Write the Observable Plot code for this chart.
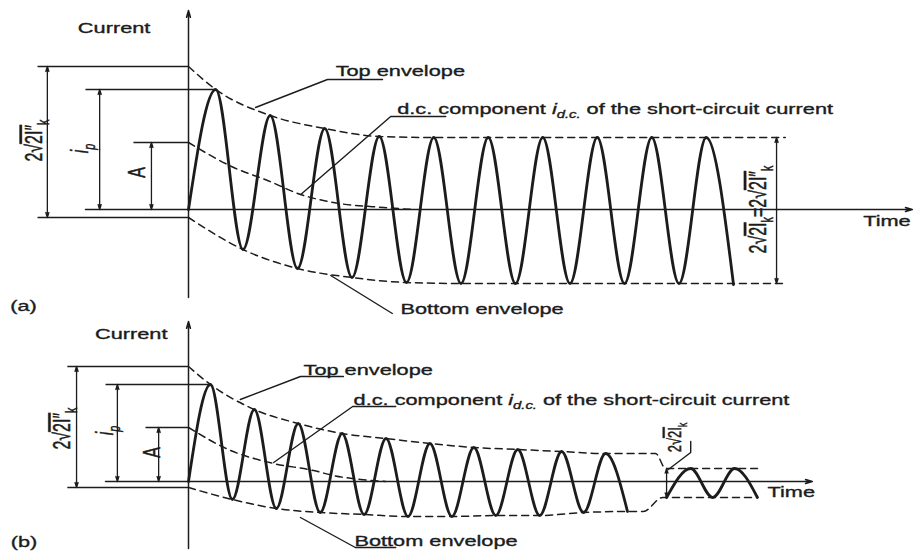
<!DOCTYPE html>
<html><head><meta charset="utf-8">
<script src="https://cdn.jsdelivr.net/npm/d3@7"></script>
<script src="https://cdn.jsdelivr.net/npm/@observablehq/plot@0.6"></script>
<style>
body{margin:0;background:#fff;}
#chart{width:913px;height:553px;overflow:hidden;background:#fff;}
#chart svg{display:block;}
</style></head><body><div id="chart"></div>
<script>
// ================= DATA (time in cycles, current in arbitrary units) =================
// ---- (a) short circuit far from generator ----
const waveA_t = [0, 0.5, 1, 1.5, 2, 2.5, 3, 3.5, 4, 4.5, 5, 5.5, 6, 6.5, 7, 7.5, 8, 8.5, 9, 9.5, 10];
const waveA_i = [0, 12.0, -4.0, 9.4, -5.9, 8.1, -6.8, 7.3, -7.3, 7.2, -7.4, 7.2, -7.4, 7.2, -7.4, 7.2, -7.4, 7.2, -7.4, 7.2, -7.5];
const topEnvA_t = [0, 0.5, 1.5, 2.5, 3.5, 4.5, 10.95];
const topEnvA_i = [14.3, 12.0, 9.4, 8.1, 7.3, 7.2, 7.2];
const botEnvA_t = [0, 1, 2, 3, 4, 5, 10.95];
const botEnvA_i = [-0.8, -4.0, -5.9, -6.8, -7.3, -7.4, -7.4];
const dcA_t = [0, 0.83, 1.45, 2.06, 2.66, 3.58, 4.13];
const dcA_i = [6.7, 4.2, 2.9, 1.5, 0.7, 0.2, 0];

// ---- (b) short circuit near generator ----
const waveB_t = [0, 0.5, 1, 1.5, 2, 2.5, 3, 3.5, 4, 4.5, 5, 5.5, 6, 6.5, 7, 7.5, 8, 8.5, 9, 9.5, 10];
const waveB_i = [0, 9.7, -1.8, 7.2, -2.7, 5.8, -3.1, 4.8, -3.3, 4.3, -3.5, 3.8, -3.5, 3.4, -3.4, 3.2, -3.4, 3.0, -3.1, 2.8, -3.0];
const steadyB_t = [10.89, 11.44, 11.94, 12.44, 12.96];
const steadyB_i = [-1.6, 1.3, -1.6, 1.3, -1.6];
const topEnvB_t = [0, 0.5, 1.5, 2.5, 3.5, 4.5, 5.5, 6.5, 7.5, 8.5, 9.5, 10.64, 10.87, 12.96];
const topEnvB_i = [11.5, 9.7, 7.2, 5.8, 4.8, 4.3, 3.8, 3.4, 3.2, 3.0, 2.8, 2.8, 1.3, 1.3];
const botEnvB_t = [0, 1, 2, 3, 4, 5, 6, 7, 8, 9, 10, 10.36, 10.80, 12.96];
const botEnvB_i = [-0.6, -1.8, -2.7, -3.1, -3.3, -3.5, -3.5, -3.4, -3.4, -3.1, -3.0, -3.0, -1.6, -1.6];
const dcB_t = [0, 0.96, 1.94, 2.85, 3.30, 3.92, 4.49];
const dcB_i = [5.4, 3.1, 1.8, 1.1, 0.6, 0.2, 0];

// ---- annotations (in data units) ----
const axesA = [{t1: -1.89, i1: 0, t2: 13.28, i2: 0}, {t1: 0, i1: -8.8, t2: 0, i2: 19.9}];
const axesB = [{t1: -1.89, i1: 0, t2: 14.21, i2: 0}, {t1: 0, i1: -6.7, t2: 0, i2: 16.0}];
const dimLinesA = [
  {t1: -2.77, i1: 14.3, t2: 0, i2: 14.3}, {t1: -2.77, i1: -0.8, t2: 0, i2: -0.8},
  {t1: -1.89, i1: 12.0, t2: 0.5, i2: 12.0}, {t1: -1.01, i1: 6.7, t2: 0, i2: 6.7}];
const dimLinesB = [
  {t1: -2.76, i1: 11.5, t2: 0, i2: 11.5}, {t1: -2.76, i1: -0.6, t2: 0, i2: -0.6},
  {t1: -1.89, i1: 9.7, t2: 0.5, i2: 9.7}, {t1: -0.98, i1: 5.4, t2: 0, i2: 5.4}];
const dimArrowsA = [{t: -2.59, i1: 14.3, i2: -0.8}, {t: -1.63, i1: 12.0, i2: 0}, {t: -0.68, i1: 6.7, i2: 0}, {t: 10.79, i1: 7.2, i2: -7.4}];
const dimArrowsB = [{t: -2.55, i1: 11.5, i2: -0.6}, {t: -1.62, i1: 9.7, i2: 0}, {t: -0.68, i1: 5.4, i2: 0}, {t: 10.89, i1: 1.3, i2: -1.6}];
const leadersA = [
  {id: "top", t: 1.23, i: 10.2}, {id: "top", t: 2.55, i: 13.0}, {id: "top", t: 3.56, i: 13.0},
  {id: "dc", t: 2.06, i: 1.5}, {id: "dc", t: 3.71, i: 9.3}, {id: "dc", t: 4.72, i: 9.3},
  {id: "bot", t: 2.61, i: -6.6}, {id: "bot", t: 3.74, i: -10.4}];
const leadersB = [
  {id: "top", t: 1.18, i: 8.2}, {id: "top", t: 2.55, i: 10.5}, {id: "top", t: 3.53, i: 10.5},
  {id: "dc", t: 1.94, i: 1.9}, {id: "dc", t: 3.74, i: 7.5}, {id: "dc", t: 4.72, i: 7.5},
  {id: "bot", t: 2.55, i: -3.6}, {id: "bot", t: 3.80, i: -6.6}, {id: "bot", t: 4.72, i: -6.6},
  {id: "ss", t: 11.44, i: 4.0}, {id: "ss", t: 11.44, i: 2.9}, {id: "ss", t: 10.93, i: 1.2}];
const DC_TEXT = "d.c. component *i*%d.c.% of the short-circuit current";
const textA = [
  {text: "Top envelope", t: 2.70, i: 13.4}, {text: DC_TEXT, t: 3.83, i: 9.6},
  {text: "Bottom envelope", t: 3.89, i: -10.4}, {text: "Time", t: 12.38, i: -1.6}, {text: "(a)", t: -3.27, i: -10.1}];
const textEndA = [{text: "Current", t: -0.70, i: 17.7}];
const rotA = [
  {text: "2√^2I″^_k_", t: -2.83, i: 6.9}, {text: "*i*%p%", t: -1.98, i: 6.1},
  {text: "A", t: -0.94, i: 3.7}, {text: "2√^2I^_k_=2√^2I″^_k_", t: 10.46, i: 0}];
const textB = [
  {text: "Top envelope", t: 2.62, i: 10.7}, {text: DC_TEXT, t: 3.76, i: 7.7},
  {text: "Bottom envelope", t: 3.78, i: -6.4}, {text: "Time", t: 13.19, i: -1.5}, {text: "(b)", t: -4.05, i: -6.5}];
const textEndB = [{text: "Current", t: -0.48, i: 14.3}];
const rotB = [
  {text: "2√^2I″^_k_", t: -2.86, i: 5.3}, {text: "*i*%p%", t: -1.89, i: 5.1},
  {text: "A", t: -0.82, i: 2.9}];
const rotSmallB = [{text: "2√^2I^_k_", t: 11.09, i: 4.4}];

// ================= RENDERING =================
const INK = "#1c1c1c";
const zip = (T, I) => T.map((t, k) => ({t, i: I[k]}));

function panel(P) {
  const split = P.dimArrows.flatMap(d => [
    {t: d.t, a: (d.i1 + d.i2) / 2, b: d.i1},
    {t: d.t, a: (d.i1 + d.i2) / 2, b: d.i2}]);
  const txt = {fill: INK, stroke: INK, strokeWidth: 0.35};
  const marks = [
    Plot.link(P.dimLines, {x1: "t1", y1: "i1", x2: "t2", y2: "i2", stroke: INK, strokeWidth: 1.4}),
    Plot.arrow(P.axes, {x1: "t1", y1: "i1", x2: "t2", y2: "i2", stroke: INK, strokeWidth: 1.5, headLength: 7, headAngle: 32}),
    Plot.arrow(split, {x1: "t", y1: "a", x2: "t", y2: "b", stroke: INK, strokeWidth: 1.3, headLength: 6, headAngle: 34}),
    ...P.envs.map(e => Plot.line(e, {x: "t", y: "i", curve: "monotone-x", stroke: INK, strokeWidth: 1.5, strokeDasharray: "7,5"})),
    ...P.waves.map(w => Plot.line(w, {x: "t", y: "i", curve: "monotone-x", stroke: INK, strokeWidth: 2.8})),
    Plot.line(P.leaders, {x: "t", y: "i", z: "id", stroke: INK, strokeWidth: 1.4}),
    Plot.text(P.texts, {x: "t", y: "i", text: "text", textAnchor: "start", lineAnchor: "bottom", fontSize: 15, ...txt}),
    Plot.text(P.textsEnd, {x: "t", y: "i", text: "text", textAnchor: "end", lineAnchor: "bottom", fontSize: 15, ...txt}),
    Plot.text(P.rot, {x: "t", y: "i", text: "text", rotate: -90, textAnchor: "middle", lineAnchor: "middle", fontSize: 16, ...txt})
  ];
  if (P.rotSmall) marks.push(Plot.text(P.rotSmall, {x: "t", y: "i", text: "text", rotate: -90, textAnchor: "middle", lineAnchor: "middle", fontSize: 13, ...txt}));
  return Plot.plot({
    width: 913, height: P.height, margin: 0,
    x: {domain: P.xDomain, range: [0, 913], axis: null},
    y: {domain: P.yDomain, range: [P.height, 0], axis: null},
    style: {fontFamily: "'Liberation Sans', Arial, sans-serif", background: "white", overflow: "visible"},
    marks
  });
}

function richText(el, fs) {
  const s = el.textContent;
  if (!/[*_^%]/.test(s)) return;
  const parts = s.split(/(\*[^*]+\*|_[^_]+_|%[^%]+%|\^[^^]+\^)/).filter(d => d);
  while (el.firstChild) el.removeChild(el.firstChild);
  let shifted = 0;
  for (const p of parts) {
    const ts = document.createElementNS("http://www.w3.org/2000/svg", "tspan");
    let txt = p, sub = false, it = false, over = false;
    const c = p[0], e = p[p.length - 1];
    if (p.length > 1 && c === "*" && e === "*") { txt = p.slice(1, -1); it = true; }
    else if (p.length > 1 && c === "_" && e === "_") { txt = p.slice(1, -1); sub = true; }
    else if (p.length > 1 && c === "%" && e === "%") { txt = p.slice(1, -1); sub = true; it = true; }
    else if (p.length > 1 && c === "^" && e === "^") { txt = p.slice(1, -1); over = true; }
    ts.textContent = txt;
    if (it) ts.setAttribute("font-style", "italic");
    if (over) ts.setAttribute("text-decoration", "overline");
    const want = sub ? 0.3 * fs : 0;
    if (want !== shifted) { ts.setAttribute("dy", want - shifted); shifted = want; }
    if (sub) ts.setAttribute("font-size", 0.68 * fs);
    el.appendChild(ts);
  }
}

function finishText(svg) {
  d3.select(svg).selectAll("text").each(function () {
    const fs = parseFloat(getComputedStyle(this).fontSize) || 15;
    richText(this, fs);
    const tr = this.getAttribute("transform");
    if (tr && /^translate\([^)]*\)/.test(tr)) {
      this.setAttribute("transform", tr.replace(/^(translate\([^)]*\))/, "$1 scale(1.45,1)"));
    } else {
      const x = +this.getAttribute("x") || 0, y = +this.getAttribute("y") || 0;
      this.removeAttribute("x"); this.removeAttribute("y");
      this.setAttribute("transform", `translate(${x},${y}) scale(1.45,1)` + (tr ? " " + tr : ""));
    }
  });
}

const chart = document.getElementById("chart");
const svgA = panel({
  height: 318, xDomain: [-188 / 54.5, 725 / 54.5], yDomain: [-10.9, 20.9],
  axes: axesA, dimLines: dimLinesA, dimArrows: dimArrowsA, leaders: leadersA,
  envs: [zip(topEnvA_t, topEnvA_i), zip(botEnvA_t, botEnvA_i), zip(dcA_t, dcA_i)],
  waves: [zip(waveA_t, waveA_i)],
  texts: textA, textsEnd: textEndA, rot: rotA
});
const svgB = panel({
  height: 235, xDomain: [-188 / 43.9, 725 / 43.9], yDomain: [-7.2, 16.3],
  axes: axesB, dimLines: dimLinesB, dimArrows: dimArrowsB, leaders: leadersB,
  envs: [zip(topEnvB_t, topEnvB_i), zip(botEnvB_t, botEnvB_i), zip(dcB_t, dcB_i)],
  waves: [zip(waveB_t, waveB_i), zip(steadyB_t, steadyB_i)],
  texts: textB, textsEnd: textEndB, rot: rotB, rotSmall: rotSmallB
});
chart.appendChild(svgA);
chart.appendChild(svgB);
finishText(svgA);
finishText(svgB);
</script></body></html>
